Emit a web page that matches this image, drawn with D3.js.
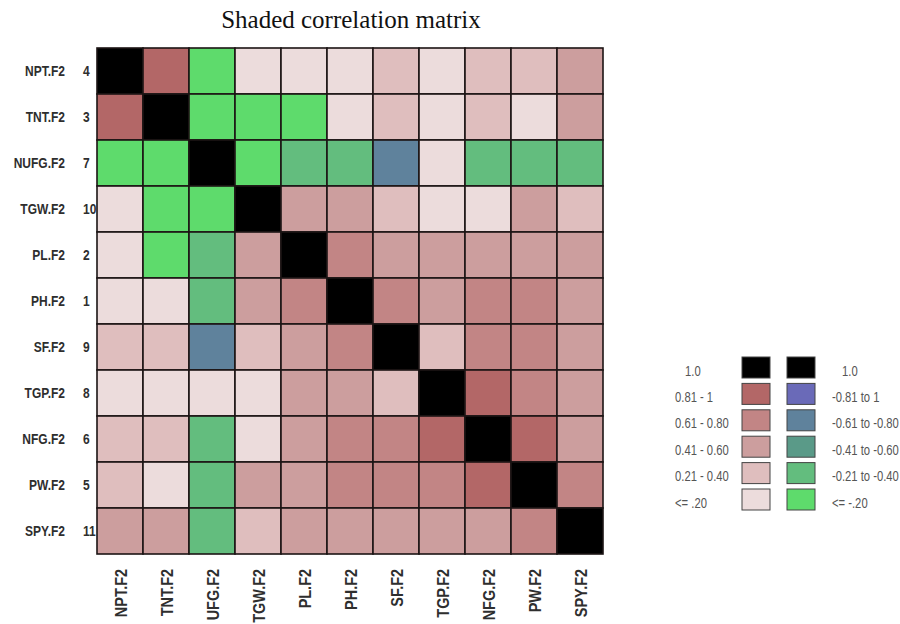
<!DOCTYPE html>
<html><head><meta charset="utf-8">
<script src="https://cdn.jsdelivr.net/npm/d3@7"></script>
<style>body{margin:0;background:#fff}svg{display:block}</style>
</head><body>
<script>
const rowLabels = ["NPT.F2","TNT.F2","NUFG.F2","TGW.F2","PL.F2","PH.F2","SF.F2","TGP.F2","NFG.F2","PW.F2","SPY.F2"];
const rowNumbers = ["4","3","7","10","2","1","9","8","6","5","11"];
// column labels as visible in the reference (the third one is cut at the page edge there)
const colLabels = ["NPT.F2","TNT.F2","UFG.F2","TGW.F2","PL.F2","PH.F2","SF.F2","TGP.F2","NFG.F2","PW.F2","SPY.F2"];
// estimated correlations (read from shading classes)
const corr = [
  [1, .85, -.1, .1, .1, .1, .3, .1, .3, .3, .5],
  [.85, 1, -.1, -.1, -.1, .1, .3, .1, .3, .1, .5],
  [-.1, -.1, 1, -.1, -.3, -.3, -.7, .1, -.3, -.3, -.3],
  [.1, -.1, -.1, 1, .5, .5, .3, .1, .1, .5, .3],
  [.1, -.1, -.3, .5, 1, .7, .5, .5, .5, .5, .5],
  [.1, .1, -.3, .5, .7, 1, .7, .5, .7, .7, .5],
  [.3, .3, -.7, .3, .5, .7, 1, .3, .7, .7, .5],
  [.1, .1, .1, .1, .5, .5, .3, 1, .85, .7, .5],
  [.3, .3, -.3, .1, .5, .7, .7, .85, 1, .85, .5],
  [.3, .1, -.3, .5, .5, .7, .7, .7, .85, 1, .7],
  [.5, .5, -.3, .3, .5, .5, .5, .5, .5, .7, 1]
];
const thresholds = [-0.805, -0.605, -0.405, -0.205, 0, 0.205, 0.405, 0.605, 0.805, 0.999];
const shadeColors = ["#6a6ab8","#5f829c","#5a9a88","#63bd7e","#5edb6c","#ecdcdc","#dfbebe","#cc9e9e","#c28585","#b36767","#000000"];
const legendPosLabels = ["1.0","0.81 - 1","0.61 - 0.80","0.41 - 0.60","0.21 - 0.40","<= .20"];
const legendPosValues = [1, .9, .7, .5, .3, .1];
const legendNegLabels = ["1.0","-0.81 to 1","-0.61 to -0.80","-0.41 to -0.60","-0.21 to -0.40","<= -.20"];
const legendNegValues = [1, -.9, -.7, -.5, -.3, -.1];
const title = "Shaded correlation matrix";

const W = 900, H = 624;
const svg = d3.select("body").append("svg").attr("width", W).attr("height", H);
const color = d3.scaleThreshold().domain(thresholds).range(shadeColors);
const idx = d3.range(rowLabels.length);
const x = d3.scaleBand().domain(idx).range([97, 603]);
const y = d3.scaleBand().domain(idx).range([48, 554]);

svg.append("text").attr("x", 351).attr("y", 28).attr("text-anchor", "middle")
  .attr("font-family", "Liberation Serif, Times New Roman, serif").attr("font-size", 25)
  .attr("fill", "#111").text(title);

const cells = [];
corr.forEach((row, i) => row.forEach((v, j) => cells.push({i, j, v})));
svg.append("g").selectAll("rect").data(cells).join("rect")
  .attr("x", d => x(d.j)).attr("y", d => y(d.i))
  .attr("width", x.bandwidth()).attr("height", y.bandwidth())
  .attr("fill", d => color(d.v)).attr("stroke", "#1c1414").attr("stroke-width", 1.6);

const sx = 0.8;
const lab = svg.append("g").attr("font-family", "Liberation Sans, Arial, sans-serif").attr("fill", "#2e2e2e");
lab.selectAll("text.rl").data(rowLabels).join("text").attr("class", "rl")
  .attr("transform", (d, i) => `translate(65,${y(i) + y.bandwidth()/2 + 5}) scale(${sx},1)`)
  .attr("text-anchor", "end").attr("font-size", 15).attr("font-weight", 600).text(d => d);
lab.selectAll("text.rn").data(rowNumbers).join("text").attr("class", "rn")
  .attr("transform", (d, i) => `translate(83,${y(i) + y.bandwidth()/2 + 5}) scale(${sx},1)`)
  .attr("text-anchor", "start").attr("font-size", 15).attr("font-weight", 600).text(d => d);
lab.selectAll("text.cl").data(colLabels).join("text").attr("class", "cl")
  .attr("transform", (d, j) => `translate(${x(j) + x.bandwidth()/2 + 7},569) rotate(-90) scale(0.85,1)`)
  .attr("text-anchor", "end").attr("font-size", 17).attr("font-weight", "bold").text(d => d);

// legend
const ly = d3.scaleBand().domain(d3.range(legendPosLabels.length)).range([357, 357 + 26.4 * 6]);
const lg = svg.append("g").attr("font-family", "Liberation Sans, Arial, sans-serif").attr("fill", "#555");
lg.selectAll("rect.lp").data(legendPosValues).join("rect").attr("class", "lp")
  .attr("x", 742).attr("y", (d, i) => ly(i)).attr("width", 28).attr("height", 21)
  .attr("fill", d => color(d)).attr("stroke", "#444").attr("stroke-width", 1);
lg.selectAll("rect.ln").data(legendNegValues).join("rect").attr("class", "ln")
  .attr("x", 787).attr("y", (d, i) => ly(i)).attr("width", 28).attr("height", 21)
  .attr("fill", d => color(d)).attr("stroke", "#444").attr("stroke-width", 1);
lg.selectAll("text.lpt").data(legendPosLabels).join("text").attr("class", "lpt")
  .attr("transform", (d, i) => `translate(${i === 0 ? 685 : 675},${ly(i) + 18.5}) scale(0.75,1)`)
  .attr("font-size", 15).text(d => d);
lg.selectAll("text.lnt").data(legendNegLabels).join("text").attr("class", "lnt")
  .attr("transform", (d, i) => `translate(${i === 0 ? 842 : 832},${ly(i) + 18.5}) scale(0.75,1)`)
  .attr("font-size", 15).text(d => d);
</script>
</body></html>
